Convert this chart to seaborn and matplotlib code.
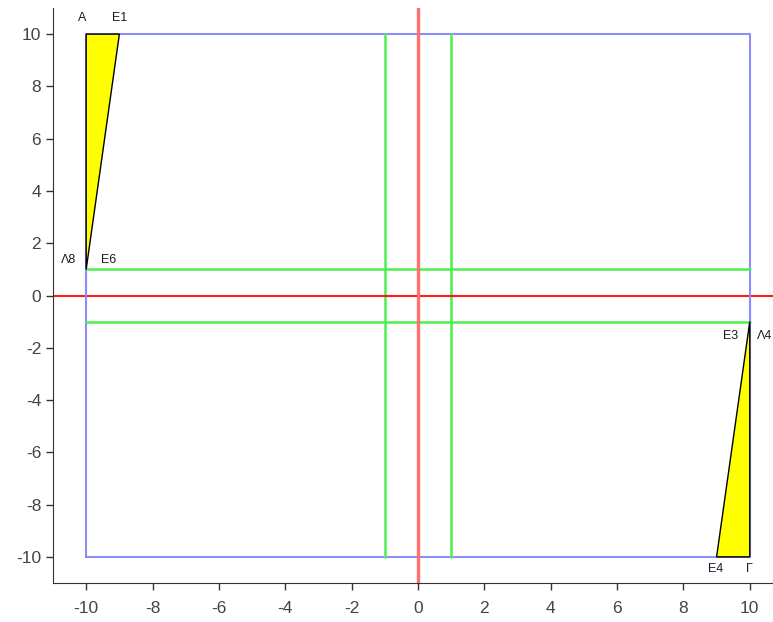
import numpy as np
import pandas as pd
import seaborn as sns
import matplotlib
matplotlib.use("Agg")
import matplotlib.pyplot as plt

# square outline
square_x = [-10, 10, 10, -10, -10]
square_y = [-10, -10, 10, 10, -10]

# green guide lines
green_v = [-1, 1]
green_h = [-1, 1]

# yellow triangles
tri1_x = [-10, -9, -10]
tri1_y = [10, 10, 1]
tri2_x = [10, 9, 10]
tri2_y = [-10, -10, -1]

# thin slivers joining the triangles to the axis
sliver1_x = [-10, -10]
sliver1_y = [1, 0]
sliver2_x = [10, 10]
sliver2_y = [-1, 0]

# point labels
lab_names = ["A", "E1", "Λ8", "E6", "E3", "Λ4", "E4", "Γ"]
lab_x = [-10, -9, -10, -10, 10, 10, 9, 10]
lab_y = [10, 10, 1, 1, -1, -1, -10, -10]
lab_dx = [-4, 0, -18, 22, -19, 15, -1, 0]
lab_dy = [16, 16, 9, 9, -14, -14, -12, -12]

ticks = list(range(-10, 11, 2))

sns.set_style("ticks")
plt.rcParams['font.family'] = ['Liberation Sans', 'DejaVu Sans']
plt.rcParams['axes.unicode_minus'] = False

fig = plt.figure(figsize=(7.73, 6.22), dpi=100)
ax = fig.add_axes([53 / 773, 39 / 622, 720 / 773, 575 / 622])

sq = pd.DataFrame({"x": square_x, "y": square_y})
sns.lineplot(data=sq, x="x", y="y", sort=False, estimator=None, color="#8c8cff", lw=1.5, ax=ax)

for gx in green_v:
    sns.lineplot(x=[gx, gx], y=[-10, 10], sort=False, estimator=None, color="#4cf04c", lw=1.8, ax=ax)
for gy in green_h:
    sns.lineplot(x=[-10, 10], y=[gy, gy], sort=False, estimator=None, color="#4cf04c", lw=1.8, ax=ax)

ax.axhline(0, color="#ff1a1a", lw=1.5)
ax.axvline(0, color="#ff7070", lw=2.4)

for sx, sy in [(sliver1_x, sliver1_y), (sliver2_x, sliver2_y)]:
    sns.lineplot(x=sx, y=sy, sort=False, estimator=None, color="#8c8cff", lw=1.5, ax=ax)

ax.fill(tri1_x, tri1_y, facecolor="#ffff00", edgecolor="black", lw=1.0, zorder=3)
ax.fill(tri2_x, tri2_y, facecolor="#ffff00", edgecolor="black", lw=1.0, zorder=3)

for name, px, py, dx, dy in zip(lab_names, lab_x, lab_y, lab_dx, lab_dy):
    ax.annotate(name, (px, py), xytext=(dx, dy), textcoords="offset pixels",
                ha="center", va="center", fontsize=9, color="#1a1a2e")

ax.set_xlim(-11, 10.7)
ax.set_ylim(-11, 11)
ax.set_xticks(ticks)
ax.set_yticks(ticks)
ax.tick_params(labelsize=12.5, labelcolor="#444444", colors="#333333", length=5, width=1)
ax.tick_params(axis="x", pad=8)
ax.set_xlabel("")
ax.set_ylabel("")
sns.despine(ax=ax)
for s in ["left", "bottom"]:
    ax.spines[s].set_color("#333333")

fig.savefig("out.png", dpi=100)
